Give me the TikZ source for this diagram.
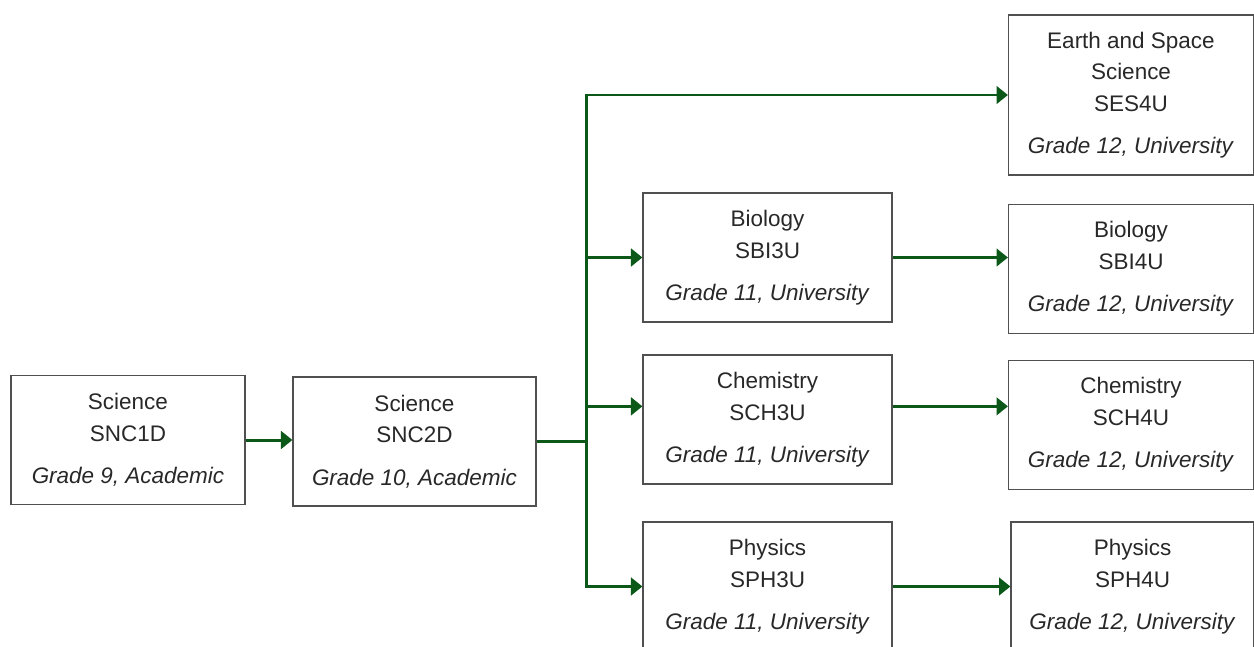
\documentclass[tikz,border=0pt]{standalone}
\usepackage{fontspec}
\setmainfont{Liberation Sans}
\usetikzlibrary{positioning, arrows.meta}

\definecolor{pathgreen}{RGB}{12,88,24}
\definecolor{boxgrey}{RGB}{80,80,80}
\definecolor{textgrey}{RGB}{40,40,40}

\begin{document}
\begin{tikzpicture}[x=0.02cm, y=-0.02cm,
    course/.style={draw=boxgrey, line width=0.7pt, rectangle, align=center,
        text=textgrey, minimum height=2.58cm, inner sep=0pt,
        font=\fontsize{12.8}{18}\selectfont},
    link/.style={draw=pathgreen, line width=1.7pt},
    flow/.style={link, -{Triangle[length=6.5pt,width=10pt]}}]
    \useasboundingbox (0,0) rectangle (1254,646);

    % grade 9 and 10
    \node[course, minimum width=4.68cm] (snc1d) at (128,440) {Science\\SNC1D\\[6pt]\textit{Grade 9, Academic}};
    \node[course, minimum width=4.86cm] (snc2d) at (414.5,441.5) {Science\\SNC2D\\[6pt]\textit{Grade 10, Academic}};

    % grade 11
    \node[course, minimum width=4.98cm] (sbi3u) at (767.5,257.5) {Biology\\SBI3U\\[6pt]\textit{Grade 11, University}};
    \node[course, minimum width=4.98cm] (sch3u) at (767.5,419.5) {Chemistry\\SCH3U\\[6pt]\textit{Grade 11, University}};
    \node[course, minimum width=4.98cm] (sph3u) at (767.5,586.5) {Physics\\SPH3U\\[6pt]\textit{Grade 11, University}};

    % grade 12
    \node[course, minimum width=4.9cm, minimum height=3.2cm] (ses4u) at (1131,95) {Earth and Space\\Science\\SES4U\\[6pt]\textit{Grade 12, University}};
    \node[course, minimum width=4.9cm] (sbi4u) at (1131,269) {Biology\\SBI4U\\[6pt]\textit{Grade 12, University}};
    \node[course, minimum width=4.9cm] (sch4u) at (1131,425) {Chemistry\\SCH4U\\[6pt]\textit{Grade 12, University}};
    \node[course, minimum width=4.86cm] (sph4u) at (1132.5,586.5) {Physics\\SPH4U\\[6pt]\textit{Grade 12, University}};

    \coordinate (split) at (586,441.5);

    \draw[flow] (snc1d.east) -- (snc1d.east -| snc2d.west);
    \draw[link] (snc2d.east) -- (split);
    \draw[flow] (split) |- (ses4u.west);
    \draw[flow] (split) |- (sbi3u.west);
    \draw[flow] (split) |- (sch3u.174);
    \draw[flow] (split) |- (sph3u.west);

    \draw[flow] (sbi3u.east) -- (sbi3u.east -| sbi4u.west);
    \draw[flow] (sch3u.6) -- (sch3u.6 -| sch4u.west);
    \draw[flow] (sph3u.east) -- (sph3u.east -| sph4u.west);
\end{tikzpicture}
\end{document}
